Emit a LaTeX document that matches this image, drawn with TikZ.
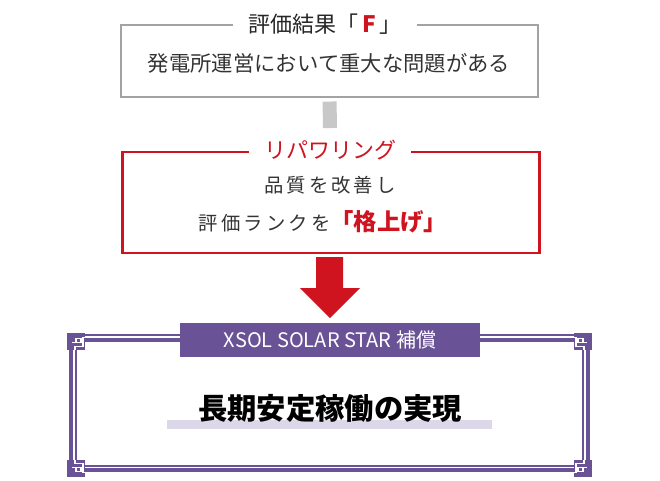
\documentclass[tikz,border=0pt]{standalone}
\usepackage{fontspec}
\setmainfont{Noto Sans CJK JP}
\newfontfamily\jpwide[LetterSpace=16]{Noto Sans CJK JP}
\usetikzlibrary{positioning}
\definecolor{xgray}{HTML}{A3A3A3}
\definecolor{xlight}{HTML}{C8C8C8}
\definecolor{xtext}{HTML}{333333}
\definecolor{xred}{HTML}{CF1420}
\definecolor{xpurple}{HTML}{6A5296}
\definecolor{xlav}{HTML}{DCD8EA}

\begin{document}
\begin{tikzpicture}[x=0.75pt,y=-0.75pt]
\tikzstyle{outline}=[rectangle, inner sep=0pt, line width=2.2pt,
	minimum width=312.75pt, minimum height=54pt,
]
\tikzstyle{boxtitle}=[fill=white, inner xsep=11pt, inner ysep=1pt,
	font=\fontsize{16.5}{18}\selectfont,
]
\tikzstyle{bar}=[line width=10.5pt, draw=xlight]
\tikzstyle{ornament}=[line width=0.8pt, draw=white]
\useasboundingbox (0,0) rectangle (660,480);

\node[outline,draw=xgray] (result) at (329.5,61) {};
\node[text=xtext,font=\fontsize{16}{18}\selectfont] (issue) at (329,63) {発電所運営において重大な問題がある};
\node[boxtitle,text=black!85] (resulttitle) at (325,24) {評価結果「\hspace{3pt}\textcolor{xred}{\bfseries\fontsize{17}{18}\selectfont F}\hspace{3pt}」};

\coordinate (barend) at (330,128);
\path[bar] (result.south) edge[shorten <=2.3pt] (barend) ;

\node[outline,draw=xred,minimum height=75.75pt] (repower) at (331,202.5) {};
\node[boxtitle,text=xred] (repowertitle) at (330,150) {リパワリング};
\node[text=xtext,font=\jpwide\fontsize{14.5}{16}\selectfont] (quality) at (330,185) {品質を改善し};
\node[text=xtext,font=\jpwide\fontsize{14.5}{16}\selectfont] (rankup) at (323,222) {評価ランクを\textcolor{xred}{\normalfont\bfseries\fontsize{17.5}{18}\selectfont「格上げ」}};

% down arrow
\fill[xred] (316,257) -- (343,257) -- (343,288) -- (360,288) -- (330,318)
	-- (300,288) -- (316,288) -- cycle;

% frame
\fill[xlav] (167,420) rectangle (492,429);
\draw[xpurple,line width=3pt] (71,340) rectangle (588,470);
\draw[xpurple,line width=1.1pt] (76,335) rectangle (583,466);
\foreach \cx/\cy/\fx/\fy in {76/341.5/1/1, 583/341.5/-1/1, 76/468.5/1/-1, 583/468.5/-1/-1}
{
\begin{scope}[shift={(\cx,\cy)},xscale=\fx,yscale=\fy]
\fill[xpurple] (-9,-8.5) rectangle (9,8.5);
\draw[ornament] (-4,1) -- (5,1) -- (5,-3) -- (0,-3) -- (0,1);
\draw[ornament] (-1,8.5) -- (-1,5) -- (7,5) -- (7,-4) -- (9,-4);
\end{scope}
}
\node[fill=xpurple,text=white,minimum width=225pt,minimum height=25.5pt,
	font=\fontsize{15}{16}\selectfont] (plan) at (330,340) {XSOL SOLAR STAR 補償};
\node[font=\bfseries\fontsize{22}{26}\selectfont] (goal) at (330,408) {長期安定稼働の実現};

\end{tikzpicture}
\end{document}
